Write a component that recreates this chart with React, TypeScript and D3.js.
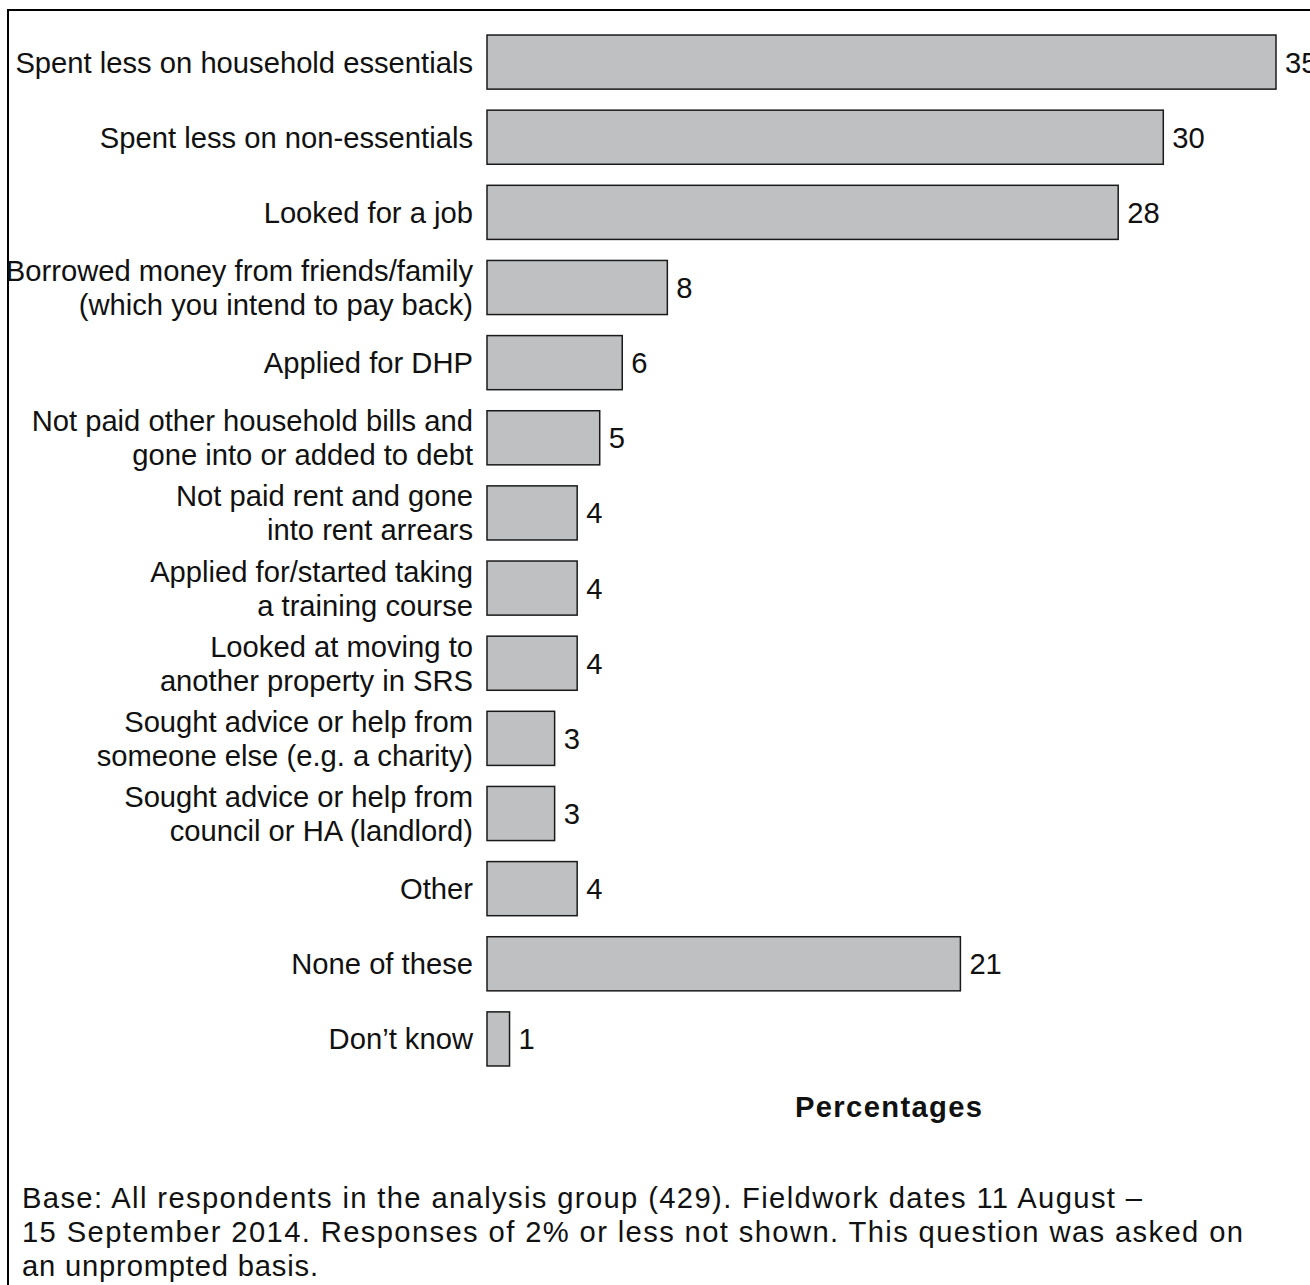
import React from "react";
import * as d3 from "d3";

const categories: string[][] = [
  ["Spent less on household essentials"],
  ["Spent less on non-essentials"],
  ["Looked for a job"],
  ["Borrowed money from friends/family", "(which you intend to pay back)"],
  ["Applied for DHP"],
  ["Not paid other household bills and", "gone into or added to debt"],
  ["Not paid rent and gone", "into rent arrears"],
  ["Applied for/started taking", "a training course"],
  ["Looked at moving to", "another property in SRS"],
  ["Sought advice or help from", "someone else (e.g. a charity)"],
  ["Sought advice or help from", "council or HA (landlord)"],
  ["Other"],
  ["None of these"],
  ["Don\u2019t know"],
];
const values: number[] = [35, 30, 28, 8, 6, 5, 4, 4, 4, 3, 3, 4, 21, 1];
const axisTitle = "Percentages";
const footnote: string[] = [
  "Base: All respondents in the analysis group (429). Fieldwork dates 11 August \u2013",
  "15 September 2014. Responses of 2% or less not shown. This question was asked on",
  "an unprompted basis.",
];
const footnoteWidths: number[] = [1120, 1221, 296];

export default function App() {
  const W = 1310;
  const H = 1285;
  const x = d3.scaleLinear().domain([0, 35]).range([487, 1276]);
  const idx = categories.map((_, i) => String(i));
  const y = d3.scaleBand().domain(idx).range([24.5, 1076.5]).paddingInner(0.28).paddingOuter(0.14);
  const font = "Arial, 'Liberation Sans', Helvetica, sans-serif";
  const fs = 29.2;
  return (
    <svg width={W} height={H} style={{ position: "absolute", left: 0, top: 0, background: "#fff" }} fontFamily={font}>
      <rect x={8} y={10} width={W} height={H} fill="none" stroke="#000" strokeWidth={2} />
      {values.map((v, i) => {
        const yy = y(String(i))!;
        const bh = y.bandwidth();
        const cy = yy + bh / 2;
        const lines = categories[i];
        return (
          <g key={i}>
            <rect x={x(0)} y={yy} width={x(v) - x(0)} height={bh} fill="#bfc0c2" stroke="#1a1a1a" strokeWidth={1.5} />
            <text x={x(v) + 9} y={cy + 10.5} fontSize={fs} fill="#111">{v}</text>
            {lines.map((l, j) => (
              <text key={j} x={473} y={cy + 10.5 + (j - (lines.length - 1) / 2) * 34} fontSize={fs} textAnchor="end" fill="#111">{l}</text>
            ))}
          </g>
        );
      })}
      <text x={795} y={1117} fontSize={fs} fontWeight="bold" textLength={187} lengthAdjust="spacing" fill="#111">{axisTitle}</text>
      {footnote.map((l, j) => (
        <text key={j} x={22} y={1208 + j * 34} fontSize={fs} textLength={footnoteWidths[j]} lengthAdjust="spacing" fill="#111">{l}</text>
      ))}
    </svg>
  );
}
